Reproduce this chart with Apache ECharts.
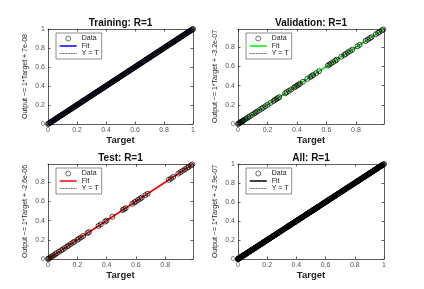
<!DOCTYPE html>
<html><head><meta charset="utf-8">
<script src="https://cdn.jsdelivr.net/npm/echarts@6/dist/echarts.min.js"></script>
<style>html,body{margin:0;padding:0;background:#fff}#c{width:424px;height:289px}</style>
</head><body><div id="c"></div><script>
// ---- data ----
const titles = ['Training: R=1', 'Validation: R=1', 'Test: R=1', 'All: R=1'];
const yNames = ['Output ~= 1*Target + 7e-08', 'Output ~= 1*Target + -3.2e-07', 'Output ~= 1*Target + -2.6e-06', 'Output ~= 1*Target + -2.9e-07'];
const xName = 'Target';
const axisMax = [1, 0.99, 0.99, 1];
const tickStep = 0.2;

// [target, output]
const trainPoints = [
 [0,0],[0.005,0.005],[0.01,0.01],[0.015,0.015],[0.02,0.02],[0.025,0.025],[0.03,0.03],[0.035,0.035],[0.04,0.04],[0.045,0.045],
 [0.05,0.05],[0.055,0.055],[0.06,0.06],[0.065,0.065],[0.07,0.07],[0.075,0.075],[0.08,0.08],[0.085,0.085],[0.09,0.09],[0.095,0.095],
 [0.1,0.1],[0.105,0.105],[0.11,0.11],[0.115,0.115],[0.12,0.12],[0.125,0.125],[0.13,0.13],[0.135,0.135],[0.14,0.14],[0.145,0.145],
 [0.15,0.15],[0.155,0.155],[0.16,0.16],[0.165,0.165],[0.17,0.17],[0.175,0.175],[0.18,0.18],[0.185,0.185],[0.19,0.19],[0.195,0.195],
 [0.2,0.2],[0.205,0.205],[0.21,0.21],[0.215,0.215],[0.22,0.22],[0.225,0.225],[0.23,0.23],[0.235,0.235],[0.24,0.24],[0.245,0.245],
 [0.25,0.25],[0.255,0.255],[0.26,0.26],[0.265,0.265],[0.27,0.27],[0.275,0.275],[0.28,0.28],[0.285,0.285],[0.29,0.29],[0.295,0.295],
 [0.3,0.3],[0.305,0.305],[0.31,0.31],[0.315,0.315],[0.32,0.32],[0.325,0.325],[0.33,0.33],[0.335,0.335],[0.34,0.34],[0.345,0.345],
 [0.35,0.35],[0.355,0.355],[0.36,0.36],[0.365,0.365],[0.37,0.37],[0.375,0.375],[0.38,0.38],[0.385,0.385],[0.39,0.39],[0.395,0.395],
 [0.4,0.4],[0.405,0.405],[0.41,0.41],[0.415,0.415],[0.42,0.42],[0.425,0.425],[0.43,0.43],[0.435,0.435],[0.44,0.44],[0.445,0.445],
 [0.45,0.45],[0.455,0.455],[0.46,0.46],[0.465,0.465],[0.47,0.47],[0.475,0.475],[0.48,0.48],[0.485,0.485],[0.49,0.49],[0.495,0.495],
 [0.5,0.5],[0.505,0.505],[0.51,0.51],[0.515,0.515],[0.52,0.52],[0.525,0.525],[0.53,0.53],[0.535,0.535],[0.54,0.54],[0.545,0.545],
 [0.55,0.55],[0.555,0.555],[0.56,0.56],[0.565,0.565],[0.57,0.57],[0.575,0.575],[0.58,0.58],[0.585,0.585],[0.59,0.59],[0.595,0.595],
 [0.6,0.6],[0.605,0.605],[0.61,0.61],[0.615,0.615],[0.62,0.62],[0.625,0.625],[0.63,0.63],[0.635,0.635],[0.64,0.64],[0.645,0.645],
 [0.65,0.65],[0.655,0.655],[0.66,0.66],[0.665,0.665],[0.67,0.67],[0.675,0.675],[0.68,0.68],[0.685,0.685],[0.69,0.69],[0.695,0.695],
 [0.7,0.7],[0.705,0.705],[0.71,0.71],[0.715,0.715],[0.72,0.72],[0.725,0.725],[0.73,0.73],[0.735,0.735],[0.74,0.74],[0.745,0.745],
 [0.75,0.75],[0.755,0.755],[0.76,0.76],[0.765,0.765],[0.77,0.77],[0.775,0.775],[0.78,0.78],[0.785,0.785],[0.79,0.79],[0.795,0.795],
 [0.8,0.8],[0.805,0.805],[0.81,0.81],[0.815,0.815],[0.82,0.82],[0.825,0.825],[0.83,0.83],[0.835,0.835],[0.84,0.84],[0.845,0.845],
 [0.85,0.85],[0.855,0.855],[0.86,0.86],[0.865,0.865],[0.87,0.87],[0.875,0.875],[0.88,0.88],[0.885,0.885],[0.89,0.89],[0.895,0.895],
 [0.9,0.9],[0.905,0.905],[0.91,0.91],[0.915,0.915],[0.92,0.92],[0.925,0.925],[0.93,0.93],[0.935,0.935],[0.94,0.94],[0.945,0.945],
 [0.95,0.95],[0.955,0.955],[0.96,0.96],[0.965,0.965],[0.97,0.97],[0.975,0.975],[0.98,0.98],[0.985,0.985],[0.99,0.99],[0.995,0.995],
 [1,1]
];
const valPoints = [
 [0,0],[0.005,0.005],[0.01,0.01],[0.015,0.015],[0.02,0.02],[0.025,0.025],[0.03,0.03],[0.035,0.035],[0.04,0.04],[0.05,0.05],
 [0.06,0.06],[0.07,0.07],[0.08,0.08],[0.095,0.095],[0.11,0.11],[0.12,0.12],[0.13,0.13],[0.145,0.145],[0.16,0.16],[0.17,0.17],
 [0.185,0.185],[0.2,0.2],[0.22,0.22],[0.24,0.24],[0.25,0.25],[0.26,0.26],[0.27,0.27],[0.28,0.28],[0.32,0.32],[0.33,0.33],
 [0.345,0.345],[0.36,0.36],[0.38,0.38],[0.39,0.39],[0.4,0.4],[0.41,0.41],[0.42,0.42],[0.44,0.44],[0.47,0.47],[0.49,0.49],
 [0.5,0.5],[0.51,0.51],[0.53,0.53],[0.55,0.55],[0.61,0.61],[0.62,0.62],[0.63,0.63],[0.645,0.645],[0.66,0.66],[0.67,0.67],
 [0.7,0.7],[0.72,0.72],[0.73,0.73],[0.745,0.745],[0.76,0.76],[0.775,0.775],[0.81,0.81],[0.825,0.825],[0.865,0.865],[0.88,0.88],
 [0.895,0.895],[0.905,0.905],[0.935,0.935],[0.95,0.95],[0.96,0.96],[0.975,0.975],[0.985,0.985]
];
const testPoints = [
 [0,0],[0.005,0.005],[0.01,0.01],[0.02,0.02],[0.03,0.03],[0.04,0.04],[0.05,0.05],[0.06,0.06],[0.075,0.075],[0.09,0.09],
 [0.1,0.1],[0.115,0.115],[0.13,0.13],[0.14,0.14],[0.155,0.155],[0.17,0.17],[0.18,0.18],[0.2,0.2],[0.21,0.21],[0.225,0.225],
 [0.24,0.24],[0.27,0.27],[0.28,0.28],[0.345,0.345],[0.36,0.36],[0.39,0.39],[0.4,0.4],[0.44,0.44],[0.51,0.51],[0.52,0.52],
 [0.53,0.53],[0.575,0.575],[0.59,0.59],[0.6,0.6],[0.615,0.615],[0.63,0.63],[0.64,0.64],[0.665,0.665],[0.68,0.68],[0.825,0.825],
 [0.84,0.84],[0.855,0.855],[0.89,0.89],[0.905,0.905],[0.92,0.92],[0.935,0.935],[0.95,0.95],[0.96,0.96],[0.975,0.975],[0.985,0.985]
];
const allPoints = trainPoints.concat(valPoints, testPoints);

const trainFit = [[0, 7e-08], [1, 1.00000007]];
const valFit = [[0, -3.2e-07], [0.99, 0.98999968]];
const testFit = [[0, -2.6e-06], [0.99, 0.9899974]];
const allFit = [[0, -2.9e-07], [1, 0.99999971]];
const yEqT = [[0, 0], [1, 1]];

const pointSets = [trainPoints, valPoints, testPoints, allPoints];
const fitSets = [trainFit, valFit, testFit, allFit];

// ---- styling / layout ----
const fitColors = ['#0000ff', '#00ee00', '#ff0000', '#000000'];
const gridBoxes = [
  {left: 48, top: 29, width: 145, height: 95},
  {left: 238, top: 29, width: 146, height: 95},
  {left: 48, top: 164, width: 145, height: 95},
  {left: 238, top: 164, width: 146, height: 95}
];
const FONT = 'Liberation Sans, Arial, sans-serif';
const axisColor = '#333';
const CLEAR = 'rgba(0,0,0,0)';

const option = {
  animation: false,
  backgroundColor: '#fff',
  title: [], grid: [], xAxis: [], yAxis: [], legend: [], series: []
};

gridBoxes.forEach((g, i) => {
  option.grid.push({left: g.left, top: g.top, width: g.width, height: g.height, containLabel: false});
  option.title.push({
    text: titles[i], left: g.left + g.width / 2, top: g.top - 11, textAlign: 'center', padding: 0,
    textStyle: {fontSize: 10, fontWeight: 'bold', fontFamily: FONT, color: '#111'}
  });
  const m = axisMax[i];
  const common = {
    gridIndex: i, type: 'value', min: 0, max: m, interval: tickStep,
    axisLine: {show: true, onZero: false, lineStyle: {color: axisColor, width: 0.8}},
    axisTick: {show: true, inside: true, length: 2.5, lineStyle: {color: axisColor, width: 0.8}},
    splitLine: {show: false}
  };
  const lbl = {fontSize: 7, margin: 3, color: '#555', fontFamily: FONT, showMaxLabel: m === 1 ? true : false};
  option.xAxis.push(Object.assign({}, common, {
    position: 'bottom', axisLabel: lbl,
    name: xName, nameLocation: 'middle', nameGap: 9,
    nameTextStyle: {fontSize: 9.5, fontWeight: 'bold', fontFamily: FONT, color: '#222'}
  }));
  option.xAxis.push(Object.assign({}, common, {position: 'top', axisLabel: {show: false}}));
  option.yAxis.push(Object.assign({}, common, {
    position: 'left', axisLabel: lbl,
    name: yNames[i], nameLocation: 'middle', nameGap: 19.5,
    nameTextStyle: {fontSize: 7, fontFamily: FONT, color: '#222'}
  }));
  option.yAxis.push(Object.assign({}, common, {position: 'right', axisLabel: {show: false}}));

  option.legend.push({
    orient: 'vertical', left: g.left + 8, top: g.top + 4,
    itemWidth: 17, itemHeight: 5, itemGap: 0.5, padding: [2, 3, 2, 3],
    borderColor: '#444', borderWidth: 0.6, backgroundColor: '#fff',
    selectedMode: false,
    textStyle: {fontSize: 7, lineHeight: 6.5, fontFamily: FONT, color: '#222'},
    data: [
      {name: 'Data', icon: 'circle', itemStyle: {color: CLEAR, borderColor: '#000', borderWidth: 0.7}},
      {name: 'Fit', itemStyle: {color: CLEAR, borderColor: CLEAR, borderWidth: 0, opacity: 0},
        lineStyle: {color: fitColors[i], width: 1.5, type: 'solid'}},
      {name: 'Y = T', itemStyle: {color: CLEAR, borderColor: CLEAR, borderWidth: 0, opacity: 0},
        lineStyle: {color: '#000', width: 0.8, type: 'dotted'}}
    ]
  });

  option.series.push({
    name: 'Y = T', type: 'line', xAxisIndex: 2 * i, yAxisIndex: 2 * i, data: yEqT,
    symbol: 'none', z: 2, silent: true,
    lineStyle: {color: '#000', width: 0.8, type: 'dotted'}, itemStyle: {color: '#000'}
  });
  option.series.push({
    name: 'Fit', type: 'line', xAxisIndex: 2 * i, yAxisIndex: 2 * i, data: fitSets[i],
    symbol: 'none', z: 3, silent: true,
    lineStyle: {color: fitColors[i], width: 1.5}, itemStyle: {color: fitColors[i]}
  });
  option.series.push({
    name: 'Data', type: 'scatter', xAxisIndex: 2 * i, yAxisIndex: 2 * i, data: pointSets[i],
    symbol: 'circle', symbolSize: 5, z: 4, silent: true,
    itemStyle: {color: CLEAR, borderColor: '#000', borderWidth: 0.9}
  });
});

const chart = echarts.init(document.getElementById('c'), null, {renderer: 'canvas'});
chart.setOption(option);
</script></body></html>
